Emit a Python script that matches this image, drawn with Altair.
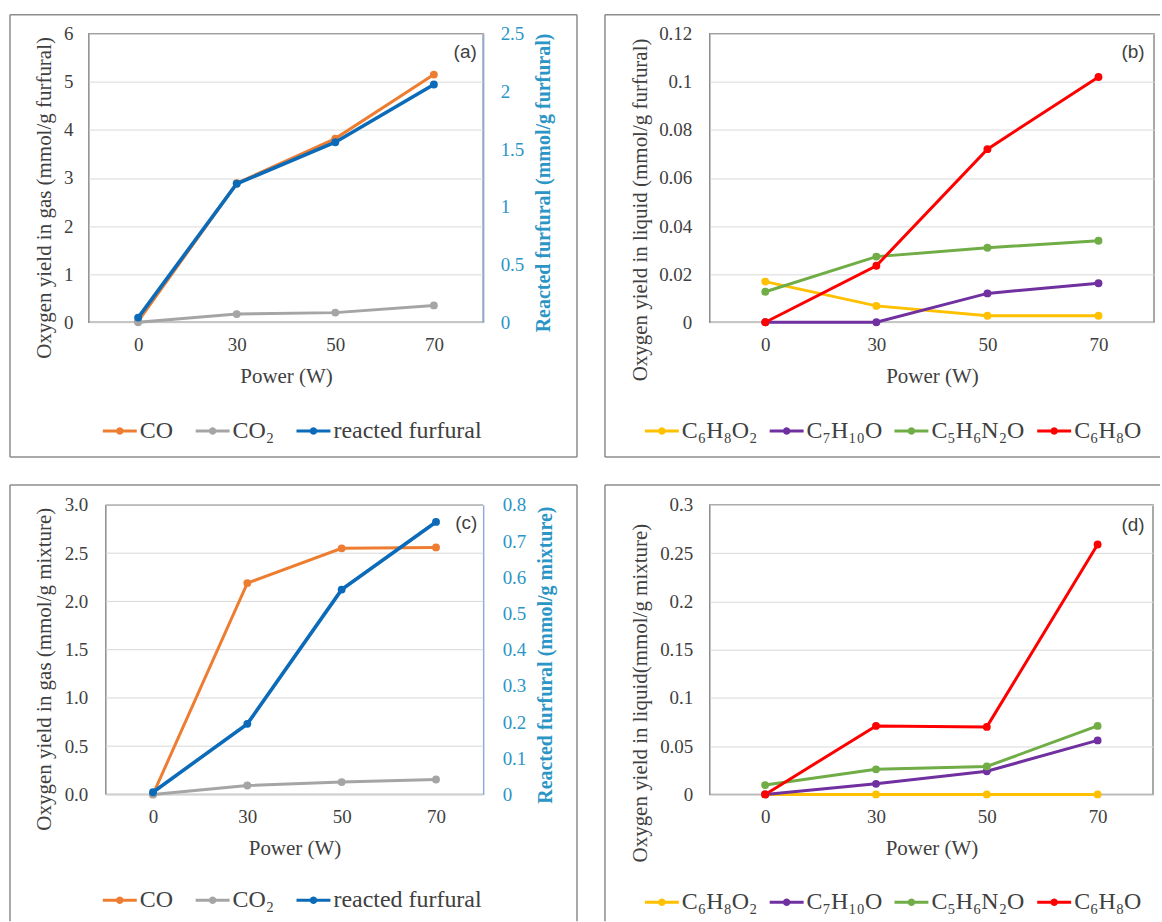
import math
import altair as alt
import pandas as pd

# ---------------- data ----------------
power = ["0", "30", "50", "70"]

gas_series = ["CO", "CO₂", "reacted furfural"]
gas_colors = ["#ED7D31", "#A5A5A5", "#0B6BB8"]
gas_widths = [3, 3, 3.6]
liq_series = ["C₆H₈O₂", "C₇H₁₀O", "C₅H₆N₂O", "C₆H₈O"]
liq_colors = ["#FFC000", "#7030A0", "#70AD47", "#FF0000"]
liq_widths = [3, 3, 3, 3]

# (a) furfural, gas
a_CO = [0.02, 2.89, 3.82, 5.15]
a_CO2 = [0.0, 0.17, 0.20, 0.35]
a_reacted = [0.04, 1.20, 1.56, 2.06]

# (b) furfural, liquid
b_C6H8O2 = [0.0169, 0.0068, 0.0027, 0.0027]
b_C7H10O = [0.0, 0.0, 0.012, 0.0162]
b_C5H6N2O = [0.0127, 0.0273, 0.031, 0.0339]
b_C6H8O = [0.0, 0.0235, 0.072, 0.102]

# (c) mixture, gas
c_CO = [0.0, 2.19, 2.55, 2.56]
c_CO2 = [0.0, 0.093, 0.128, 0.155]
c_reacted = [0.006, 0.195, 0.566, 0.753]

# (d) mixture, liquid
d_C6H8O2 = [0.0, 0.0, 0.0, 0.0]
d_C7H10O = [0.0, 0.011, 0.024, 0.056]
d_C5H6N2O = [0.0097, 0.026, 0.029, 0.071]
d_C6H8O = [0.0, 0.071, 0.070, 0.259]

a_left_ticks = [0, 1, 2, 3, 4, 5, 6]
a_right_ticks = [0, 0.5, 1, 1.5, 2, 2.5]
b_ticks = [0, 0.02, 0.04, 0.06, 0.08, 0.1, 0.12]
c_left_ticks = [0, 0.5, 1.0, 1.5, 2.0, 2.5, 3.0]
c_right_ticks = [0, 0.1, 0.2, 0.3, 0.4, 0.5, 0.6, 0.7, 0.8]
d_ticks = [0, 0.05, 0.1, 0.15, 0.2, 0.25, 0.3]

panel_tags = ["(a)", "(b)", "(c)", "(d)"]

# ---------------- styles ----------------
SERIF = "Liberation Serif"
SANS = "Liberation Sans"
TXT = "#404040"
BOX = "#8C8C8C"
FRAME = "#8C8C8C"
GRID = "#D9D9D9"
AX_BLUE = "#2B95C6"
AX_BLUE_LINE = "#8FAADC"

AX_STYLE = dict(labelFont=SERIF, labelFontSize=19, labelColor=TXT,
                titleFont=SERIF, titleFontSize=21, titleFontWeight="normal",
                titleColor=TXT, ticks=False, domain=False,
                gridColor=GRID, gridWidth=1)

# legend symbol: thin bar with a dot in the middle (unit coordinates)
_dot = " ".join(
    ("M" if i == 0 else "L")
    + f"{0.22 * math.cos(2 * math.pi * i / 20):.3f},{0.22 * math.sin(2 * math.pi * i / 20):.3f}"
    for i in range(20)
)
SYM = "M-1,-0.085L1,-0.085L1,0.085L-1,0.085Z " + _dot + "Z"


def long_df(names, values):
    rows = []
    for n, vals in zip(names, values):
        for p, v in zip(power, vals):
            rows.append({"power": p, "series": n, "value": v})
    return pd.DataFrame(rows)


def x_enc(rng=None, title_x=None):
    sc = dict(type="point", domain=power, padding=0.5)
    if rng is not None:
        sc["range"] = rng
    ax = dict(title="Power (W)", labelAngle=0, labelPadding=13,
              titleY=54, titleBaseline="middle", grid=False)
    if title_x is not None:
        ax["titleX"] = title_x
    return alt.X("power:N", sort=power, scale=alt.Scale(**sc),
                 axis=alt.Axis(**ax, **AX_STYLE))


def legend(lx, ly, ncol, colpad):
    return alt.Legend(
        orient="none", legendX=lx, legendY=ly, direction="horizontal",
        columns=ncol, title=None, symbolType=SYM, symbolSize=1156,
        symbolStrokeWidth=0, symbolOpacity=1, labelFont=SERIF,
        labelFontSize=24, labelColor=TXT, labelOffset=3,
        columnPadding=colpad, padding=0,
    )


def series(df, names, colors, widths, y, leg, xe, extra=None):
    sc = alt.Scale(domain=names, range=colors)
    layers = list(extra or [])
    for n, c, w in zip(names, colors, widths):
        sub = df[df["series"] == n]
        if len(sub) == 0:
            continue
        layers.append(alt.Chart(sub).mark_line(strokeWidth=w, color=c).encode(x=xe, y=y))
    pts = alt.Chart(df).mark_point(filled=True, size=62, opacity=1).encode(
        x=xe, y=y,
        fill=alt.Fill("series:N", scale=sc, legend=leg, sort=names),
    )
    layers.append(pts)
    return alt.layer(*layers)


def left_y(domain, ticks, title, fmt, lpad, tx, ty, grid=True, offset=0):
    return alt.Y(
        "value:Q",
        scale=alt.Scale(domain=domain, nice=False, zero=True),
        axis=alt.Axis(values=ticks, format=fmt, title=title, labelPadding=lpad,
                      titleX=tx, titleY=ty, titleBaseline="middle", titleAngle=270,
                      grid=grid, offset=offset, **AX_STYLE),
    )


def right_y(domain, ticks, title, fmt, lpad, tx, ty):
    st = dict(AX_STYLE)
    st.update(domain=True, labelColor=AX_BLUE, titleColor=AX_BLUE,
              titleFontWeight="bold", titleFontSize=20)
    return alt.Y(
        "value:Q",
        scale=alt.Scale(domain=domain, nice=False, zero=True),
        axis=alt.Axis(values=ticks, format=fmt, title=title, orient="right",
                      labelPadding=lpad, titleX=tx, titleY=ty,
                      titleBaseline="middle", titleAngle=270, grid=False,
                      domainColor=AX_BLUE_LINE, domainWidth=1.5, **st),
    )


def rules(x1, x2, y1, y2, sides, color):
    base = alt.Chart(pd.DataFrame({"k": [0]}))
    out = []
    kw = dict(color=color, strokeWidth=1.5)
    if "top" in sides:
        out.append(base.mark_rule(**kw).encode(x=alt.value(x1), x2=alt.value(x2), y=alt.value(y1)))
    if "bottom" in sides:
        out.append(base.mark_rule(**kw).encode(x=alt.value(x1), x2=alt.value(x2), y=alt.value(y2)))
    if "left" in sides:
        out.append(base.mark_rule(**kw).encode(x=alt.value(x1), y=alt.value(y1), y2=alt.value(y2)))
    if "right" in sides:
        out.append(base.mark_rule(**kw).encode(x=alt.value(x2), y=alt.value(y1), y2=alt.value(y2)))
    return out


def tag(text, tx, ty):
    return alt.Chart(pd.DataFrame({"k": [0]})).mark_text(
        font=SANS, fontSize=19, color=TXT, align="center", baseline="middle"
    ).encode(x=alt.value(tx), y=alt.value(ty), text=alt.value(text))


# ---------------- panel (a) ----------------
a_left_df = long_df(gas_series[:2], [a_CO, a_CO2])
a_right_df = long_df(gas_series[2:], [a_reacted])
leg_a = legend(14, 381, 3, 22)
xa = x_enc()
pa_left = series(a_left_df, gas_series, gas_colors, gas_widths,
                 left_y([0, 6], a_left_ticks, "Oxygen yield in gas (mmol/g furfural)", "d", 16, -44, 164),
                 leg_a, xa)
pa_right = series(a_right_df, gas_series, gas_colors, gas_widths,
                  right_y([0, 2.5], a_right_ticks, "Reacted furfural (mmol/g furfural)", ".1~f", 17, 60, 149),
                  leg_a, xa)
panel_a = alt.layer(
    alt.layer(pa_left, pa_right).resolve_scale(y="independent"),
    *rules(-79, 489, -19, 424, ["top", "bottom", "left", "right"], BOX),
    tag(panel_tags[0], 377, 18),
).properties(width=395, height=289)

# ---------------- panel (b) ----------------
b_df = long_df(liq_series, [b_C6H8O2, b_C7H10O, b_C5H6N2O, b_C6H8O])
pb = series(b_df, liq_series, liq_colors, liq_widths,
            left_y([0, 0.12], b_ticks, "Oxygen yield in liquid (mmol/g furfural)", ".2~f", 18, -69, 176),
            legend(-65, 381, 4, 12), x_enc())
panel_b = alt.layer(
    pb,
    *rules(-105, 451, -19, 424, ["top", "bottom", "left"], BOX),
    tag(panel_tags[1], 424, 18),
).properties(width=445, height=289)

# ---------------- panel (c) ----------------
# view shares panel (a)'s origin; the plot rectangle starts 17 px further right
C0, CW, CH = 17, 395, 290
c_left_df = long_df(gas_series[:2], [c_CO, c_CO2])
c_right_df = long_df(gas_series[2:], [c_reacted])
leg_c = legend(14, 379, 3, 22)
xc = x_enc(rng=[C0, CW], title_x=(C0 + CW) / 2)
yc_left = left_y([0, 3], c_left_ticks, "Oxygen yield in gas (mmol/g mixture)", ".1f", 18, -61, 164,
                 grid=False, offset=-C0)
c_grid = alt.Chart(pd.DataFrame({"value": c_left_ticks})).mark_rule(
    color=GRID, strokeWidth=1
).encode(x=alt.value(C0), x2=alt.value(CW), y=yc_left)
pc_left = series(c_left_df, gas_series, gas_colors, gas_widths, yc_left, leg_c, xc, extra=[c_grid])
pc_right = series(c_right_df, gas_series, gas_colors, gas_widths,
                  right_y([0, 0.8], c_right_ticks, "Reacted furfural (mmol/g mixture)", ".1~f", 19, 62, 150),
                  leg_c, xc)
panel_c = alt.layer(
    *rules(C0, CW, 0, CH, ["top", "bottom", "left"], FRAME),
    alt.layer(pc_left, pc_right).resolve_scale(y="independent"),
    *rules(-79, 489, -20, 417, ["top", "left", "right"], BOX),
    tag(panel_tags[2], 378, 18),
).properties(width=CW, height=CH, view=alt.ViewBackground(stroke="transparent"))

# ---------------- panel (d) ----------------
d_df = long_df(liq_series, [d_C6H8O2, d_C7H10O, d_C5H6N2O, d_C6H8O])
pd_ = series(d_df, liq_series, liq_colors, liq_widths,
             left_y([0, 0.3], d_ticks, "Oxygen yield in liquid(mmol/g mixture)", ".2~f", 17, -69, 188),
             legend(-65, 381, 4, 12), x_enc())
panel_d = alt.layer(
    pd_,
    *rules(-105, 451, -20, 417, ["top", "left"], BOX),
    tag(panel_tags[3], 424, 20),
).properties(width=444, height=290)


def indep(c):
    return c.resolve_scale(fill="independent").resolve_legend(fill="independent")


row1 = indep(alt.hconcat(panel_a, panel_b, spacing=24))
row2 = indep(alt.hconcat(panel_c, panel_d, spacing=24))

chart = indep(alt.vconcat(row1, row2, spacing=24)).properties(
    padding={"left": 8, "top": 12, "right": 0, "bottom": 0},
    background="white",
).configure(
    font=SERIF
).configure_view(
    stroke=FRAME, strokeWidth=1.5
).configure_axis(**AX_STYLE)

chart.save("out.html", embed_options={"renderer": "svg", "actions": False})
